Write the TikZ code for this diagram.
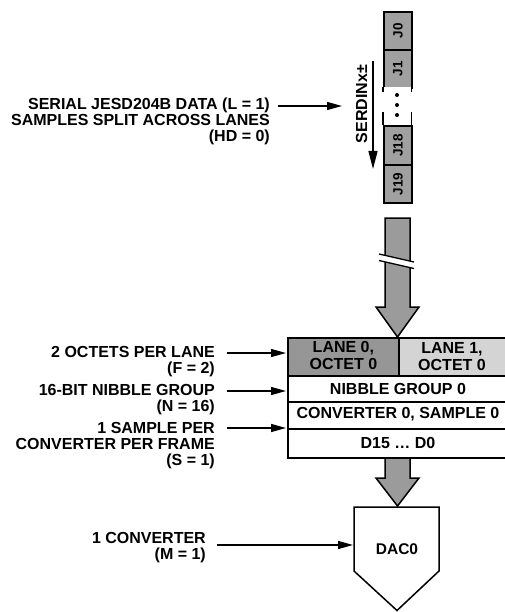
\documentclass[tikz,border=0pt]{standalone}
\usepackage{fontspec}
\setmainfont{Liberation Sans}
\usetikzlibrary{arrows.meta}
\definecolor{jgray}{RGB}{160,160,160}
\definecolor{lanedark}{RGB}{150,150,150}
\definecolor{lanelight}{RGB}{212,212,212}
\definecolor{bigarrow}{RGB}{155,155,155}
\newcommand{\lblfont}{\bfseries\fontsize{16}{16}\selectfont}
\newcommand{\cellfont}{\bfseries\fontsize{16}{17}\selectfont}
\tikzset{
  lbl/.style={font=\lblfont, align=right, anchor=north east, inner sep=0pt},
  cellbox/.style={draw=black, line width=1.8pt, inner sep=0pt, anchor=north west},
  celltxt/.style={font=\cellfont, align=center, inner sep=0pt},
  jtxt/.style={font=\bfseries\fontsize{13.5}{13.5}\selectfont, rotate=90, inner sep=0pt},
  arr/.style={line width=1.3pt, -{Triangle[length=15pt,width=8pt]}},
  bigarr/.style={fill=bigarrow, draw=black, line width=1.5pt, line join=miter},
}
\begin{document}
\begin{tikzpicture}[x=1pt,y=-1pt]
\useasboundingbox (0,0) rectangle (505,612);
\clip (0,0) rectangle (505,612);

% ---- serial lane column ----
\node[cellbox, fill=jgray, minimum width=28pt, minimum height=38pt] (j0) at (383,11) {};
\node[cellbox, fill=jgray, minimum width=28pt, minimum height=38pt] (j1) at (383,49) {};
\node[inner sep=0pt, fill=white, minimum width=28pt, minimum height=38pt, anchor=north west] (jgap) at (383,87) {};
\node[cellbox, fill=jgray, minimum width=28pt, minimum height=39pt] (j18) at (383,125) {};
\node[cellbox, fill=jgray, minimum width=28pt, minimum height=38pt] (j19) at (383,164) {};
\draw[line width=1.8pt] (jgap.north west) -- ++(0,5) (jgap.north east) -- ++(0,5);
\draw[line width=1.8pt] (jgap.south west) -- ++(0,-13) (jgap.south east) -- ++(0,-13);
\node[jtxt] (tj0) at (j0) {J0};
\node[jtxt] (tj1) at (j1) {J1};
\node[jtxt] (tj18) at (j18) {J18};
\node[jtxt] (tj19) at (j19) {J19};
\fill (397,95) circle (2pt) (397,105) circle (2pt) (397,115) circle (2pt);

% SERDIN label and arrow
\node[font=\lblfont, rotate=90, inner sep=0pt] (serdin) at (361.5,104) {SERDINx±};
\coordinate (sdtop) at (373,61);
\coordinate (sdbot) at (373,169);
\draw[line width=1.3pt, -{Triangle[length=18pt,width=9pt]}] (sdtop) -- (sdbot);

% serial data label
\node[lbl] (serlbl) at (270,98) {SERIAL JESD204B DATA (L = 1)\\SAMPLES SPLIT ACROSS LANES\\(HD = 0)};
\coordinate (s1a) at (278,106);
\coordinate (s1b) at (342,106);
\draw[arr] (s1a) -- (s1b);

% ---- big arrow from lanes to table ----
\draw[bigarr] (385,218) -- (410,218) -- (410,307) -- (419,307) -- (397.5,337) -- (376,307) -- (385,307) -- cycle;
\fill[white] (379,254) -- (414,262) -- (414,268.5) -- (379,260.5) -- cycle;
\draw[line width=1.3pt] (379,254) -- (414,262) (379,260.5) -- (414,268.5);

% ---- bottom arrow to DAC ----
\draw[bigarr] (385,455) -- (410,455) -- (410,478) -- (419,478) -- (397.5,506) -- (376,478) -- (385,478) -- cycle;

% ---- table (right edge runs off the page) ----
\node[cellbox, fill=lanedark, minimum width=111pt, minimum height=38pt] (lane0) at (287,337) {};
\node[cellbox, fill=lanelight, minimum width=130pt, minimum height=38pt] (lane1) at (398,337) {};
\node[cellbox, fill=white, minimum width=241pt, minimum height=26pt] (nib) at (287,375) {};
\node[cellbox, fill=white, minimum width=241pt, minimum height=27pt] (conv) at (287,401) {};
\node[cellbox, fill=white, minimum width=241pt, minimum height=29pt] (bits) at (287,428) {};
\node[celltxt] (tl0) at ([yshift=1pt]lane0) {LANE 0,\\OCTET 0};
\node[celltxt] (tl1) at (452,357) {LANE 1,\\OCTET 0};
\node[celltxt] (tnib) at (398,388.5) {NIBBLE GROUP 0};
\node[celltxt] (tconv) at (398,414.5) {CONVERTER 0, SAMPLE 0};
\node[celltxt] (tbits) at (398,443) {D15 … D0};

% table labels
\node[lbl] (oct) at (215,346.5) {2 OCTETS PER LANE\\(F = 2)};
\node[lbl] (nibl) at (215,384.5) {16-BIT NIBBLE GROUP\\(N = 16)};
\node[lbl] (samp) at (215,422) {1 SAMPLE PER\\CONVERTER PER FRAME\\(S = 1)};
\coordinate (o1) at (227,353);
\coordinate (o2) at (286,353);
\coordinate (n1) at (227,391);
\coordinate (n2) at (286,391);
\coordinate (p1) at (227,428);
\coordinate (p2) at (286,428);
\draw[arr] (o1) -- (o2);
\draw[arr] (n1) -- (n2);
\draw[arr] (p1) -- (p2);

% ---- DAC ----
\draw[line width=1.5pt, fill=white, line join=miter] (354,507) -- (439,507) -- (439,571) -- (397,610.5) -- (354,571) -- cycle;
\node[font=\bfseries\fontsize{15.5}{15.5}\selectfont, inner sep=0pt] (dac) at (397,549) {DAC0};
\node[lbl] (convl) at (206,532) {1 CONVERTER\\(M = 1)};
\coordinate (c1) at (217,545);
\coordinate (c2) at (353,545);
\draw[arr] (c1) -- (c2);
\end{tikzpicture}
\end{document}
